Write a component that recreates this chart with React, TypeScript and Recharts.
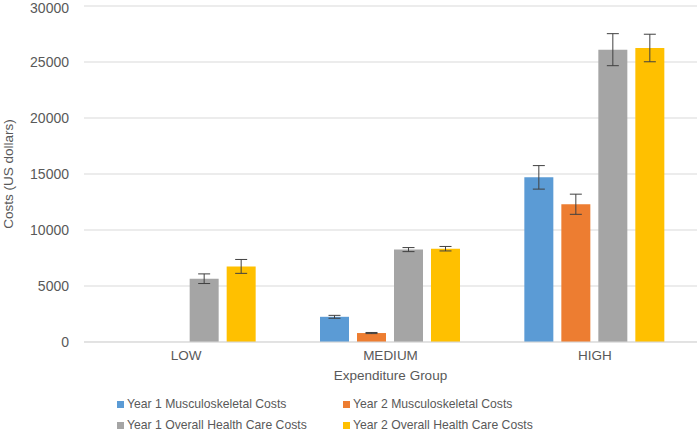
import { BarChart, Bar, XAxis, YAxis, CartesianGrid, ErrorBar } from "recharts";

const groups = ["LOW", "MEDIUM", "HIGH"];
const seriesNames = [
  "Year 1 Musculoskeletal Costs",
  "Year 2 Musculoskeletal Costs",
  "Year 1 Overall Health Care Costs",
  "Year 2 Overall Health Care Costs",
];
const colors = ["#5b9bd5", "#ed7d31", "#a5a5a5", "#ffc000"];
const y1Msk = [0, 2250, 14700];
const y1MskErr = [0, 130, 1050];
const y2Msk = [0, 800, 12300];
const y2MskErr = [0, 50, 900];
const y1All = [5650, 8250, 26100];
const y1AllErr = [430, 180, 1430];
const y2All = [6750, 8330, 26250];
const y2AllErr = [620, 200, 1230];
const yTicks = [0, 5000, 10000, 15000, 20000, 25000, 30000];

const values = [y1Msk, y2Msk, y1All, y2All];
const errors = [y1MskErr, y2MskErr, y1AllErr, y2AllErr];

const data = groups.map((g, i) => {
  const row: Record<string, string | number> = { name: g };
  values.forEach((v, s) => {
    row["s" + s] = v[i];
    row["e" + s] = errors[s][i];
  });
  return row;
});

const font = "'Liberation Sans', Arial, sans-serif";
const textColor = "#595959";

export default function App() {
  return (
    <div style={{ position: "absolute", left: 0, top: 0, width: 700, height: 434, fontFamily: font, background: "#fff" }}>
      <BarChart
        width={700}
        height={434}
        data={data}
        margin={{ top: 6, right: 3, left: 0, bottom: 50 }}
        barCategoryGap="15.5%"
        barGap={8}
      >
        <CartesianGrid vertical={false} stroke="#d9d9d9" />
        <XAxis
          dataKey="name"
          axisLine={{ stroke: "#d9d9d9" }}
          tickLine={false}
          tick={{ fill: textColor, fontSize: 13.5, fontFamily: font }}
          height={42}
          label={{ value: "Expenditure Group", position: "insideBottom", offset: 4, fill: textColor, fontSize: 13.5, fontFamily: font }}
        />
        <YAxis
          domain={[0, 30000]}
          ticks={yTicks}
          axisLine={false}
          tickLine={false}
          width={84}
          tickMargin={9}
          tick={{ fill: textColor, fontSize: 14, fontFamily: font }}
          label={{ value: "Costs (US dollars)", angle: -90, position: "insideLeft", offset: 8, fill: textColor, fontSize: 13.5, fontFamily: font, style: { textAnchor: "middle" } }}
        />
        {seriesNames.map((n, s) => (
          <Bar key={n} dataKey={"s" + s} name={n} fill={colors[s]} isAnimationActive={false}>
            <ErrorBar dataKey={"e" + s} width={6} stroke="#404040" strokeWidth={1} />
          </Bar>
        ))}
      </BarChart>
      <div
        style={{
          position: "absolute",
          left: 117,
          top: 396,
          display: "grid",
          gridTemplateColumns: "226px 226px",
          rowGap: 5,
          fontSize: 12.2,
          color: textColor,
        }}
      >
        {seriesNames.map((n, s) => (
          <div key={n} style={{ display: "flex", alignItems: "center", height: 16 }}>
            <span style={{ width: 7, height: 7, background: colors[s], marginRight: 3, display: "inline-block" }} />
            {n}
          </div>
        ))}
      </div>
    </div>
  );
}
